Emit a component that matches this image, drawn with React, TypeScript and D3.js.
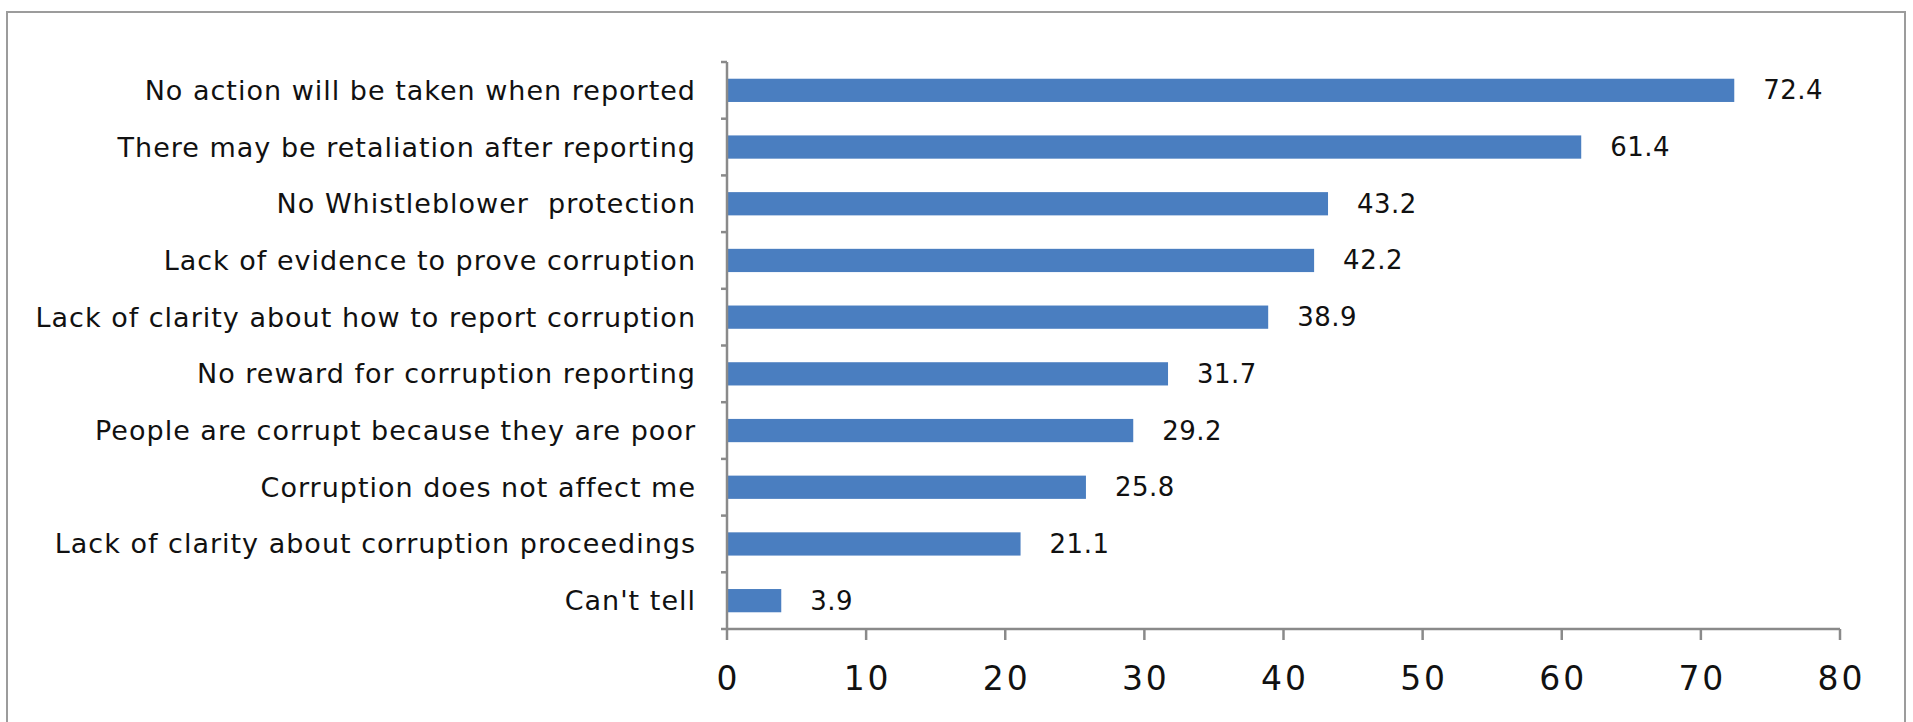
import React from "react";
import * as d3 from "d3";

const categories = [
  "No action will be taken when reported",
  "There may be retaliation after reporting",
  "No Whistleblower  protection",
  "Lack of evidence to prove corruption",
  "Lack of clarity about how to report corruption",
  "No reward for corruption reporting",
  "People are corrupt because they are poor",
  "Corruption does not affect me",
  "Lack of clarity about corruption proceedings",
  "Can't tell",
];
const values = [72.4, 61.4, 43.2, 42.2, 38.9, 31.7, 29.2, 25.8, 21.1, 3.9];
const xTicks = [0, 10, 20, 30, 40, 50, 60, 70, 80];

const W = 1913;
const H = 722;
const FONT = "'DejaVu Sans', Verdana, sans-serif";

export default function App() {
  const x = d3.scaleLinear().domain([0, 80]).range([727, 1840]);
  const y = d3
    .scaleBand<string>()
    .domain(categories)
    .range([62, 629])
    .paddingInner(0.59)
    .paddingOuter(0.295);
  const step = y.step();
  const y0 = 62;
  const y1 = 629;
  const boundaries = d3.range(categories.length + 1).map((i) => y0 + i * step);
  const axisColor = "#8a8a8a";

  return (
    <svg
      width={W}
      height={H}
      style={{ position: "absolute", left: 0, top: 0, background: "#ffffff" }}
    >
      <rect x={0} y={0} width={W} height={H} fill="#ffffff" />
      <rect
        x={7}
        y={12}
        width={1898}
        height={740}
        fill="none"
        stroke="#9c9c9c"
        strokeWidth={2}
      />
      {categories.map((c, i) => (
        <rect
          key={c}
          x={x(0)}
          y={y(c)}
          width={x(values[i]) - x(0)}
          height={y.bandwidth()}
          fill="#4a7ec0"
        />
      ))}
      {/* y axis */}
      <line x1={x(0)} x2={x(0)} y1={y0} y2={y1} stroke={axisColor} strokeWidth={2.5} />
      {boundaries.map((b, i) => (
        <line key={"yt" + i} x1={x(0) - 6} x2={x(0)} y1={b} y2={b} stroke={axisColor} strokeWidth={2.5} />
      ))}
      {/* x axis */}
      <line x1={x(0)} x2={x(80)} y1={y1} y2={y1} stroke={axisColor} strokeWidth={2.5} />
      {xTicks.map((t) => (
        <g key={"xt" + t}>
          <line x1={x(t)} x2={x(t)} y1={y1} y2={y1 + 11} stroke={axisColor} strokeWidth={2.5} />
          <text
            x={x(t) + 1.5}
            y={678}
            textAnchor="middle"
            dominantBaseline="central"
            fontFamily={FONT}
            fontSize={33}
            letterSpacing={3}
            fill="#111"
          >
            {t}
          </text>
        </g>
      ))}
      {categories.map((c) => (
        <text
          key={"l" + c}
          x={696}
          y={(y(c) as number) + y.bandwidth() / 2}
          textAnchor="end"
          dominantBaseline="central"
          fontFamily={FONT}
          fontSize={27}
          letterSpacing={1}
          fill="#111"
          style={{ whiteSpace: "pre" }}
        >
          {c}
        </text>
      ))}
      {categories.map((c, i) => (
        <text
          key={"v" + c}
          x={x(values[i]) + 29}
          y={(y(c) as number) + y.bandwidth() / 2}
          dominantBaseline="central"
          fontFamily={FONT}
          fontSize={26}
          letterSpacing={0.5}
          fill="#111"
        >
          {values[i].toFixed(1)}
        </text>
      ))}
    </svg>
  );
}
